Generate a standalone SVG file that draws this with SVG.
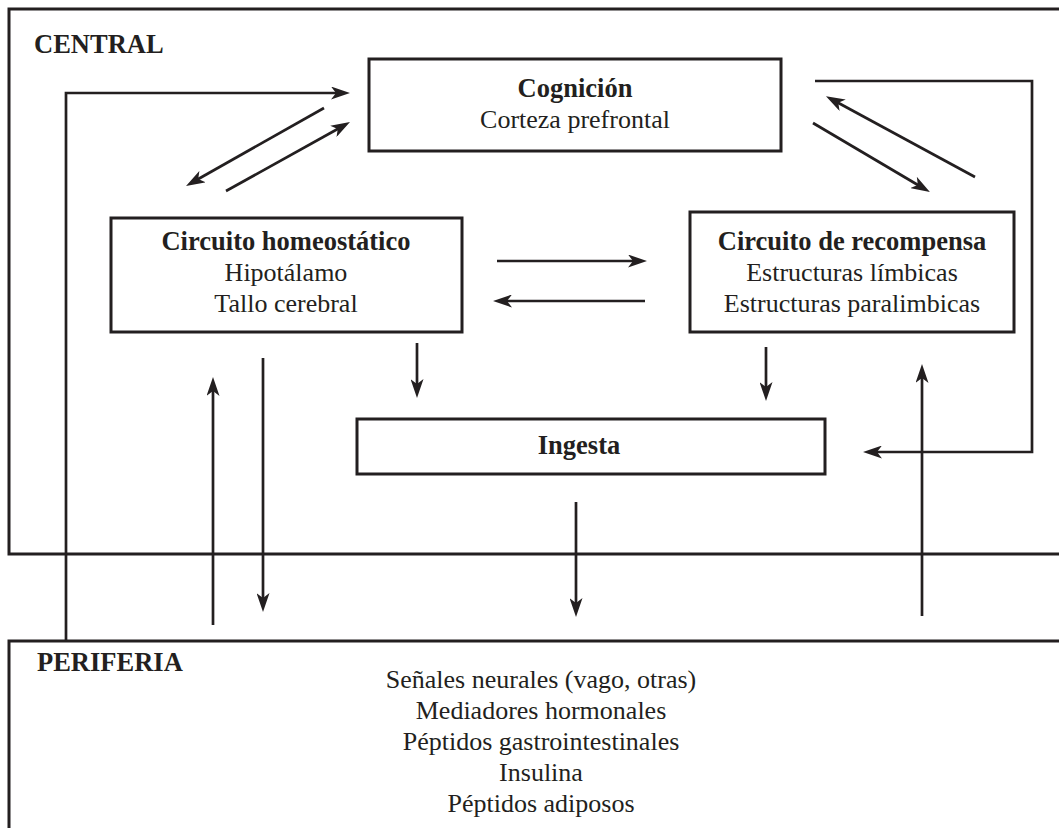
<svg xmlns="http://www.w3.org/2000/svg" width="1059" height="828" viewBox="0 0 1059 828">
<defs>
<marker id="ah" viewBox="0 0 19 13" refX="11" refY="6.5" markerWidth="19" markerHeight="13" markerUnits="userSpaceOnUse" orient="auto">
<path d="M0,0 L19,6.5 L0,13 L5,6.5 Z" fill="#231f20"/>
</marker>
</defs>
<style>
.box{fill:none;stroke:#231f20;stroke-width:3}
.ar{fill:none;stroke:#231f20;stroke-width:2.7;marker-end:url(#ah)}
text{font-family:"Liberation Serif","Times New Roman",serif;font-size:26px;fill:#231f20}
.b{font-weight:bold;font-size:26.5px}
.c{text-anchor:middle}
</style>
<rect width="1059" height="828" fill="#ffffff"/>
<g id="central">
<rect class="box" x="9" y="9" width="1070" height="545"/>
<text class="b" x="34" y="53">CENTRAL</text>
</g>
<g id="periferia">
<rect class="box" x="9" y="641" width="1070" height="200"/>
<text class="b" x="37" y="671">PERIFERIA</text>
<text class="c" x="541" y="688">Señales neurales (vago, otras)</text>
<text class="c" x="541" y="719">Mediadores hormonales</text>
<text class="c" x="541" y="750">Péptidos gastrointestinales</text>
<text class="c" x="541" y="781">Insulina</text>
<text class="c" x="541" y="812">Péptidos adiposos</text>
</g>
<g id="cognicion">
<rect class="box" x="369" y="59" width="412" height="92"/>
<text class="b c" x="575" y="97">Cognición</text>
<text class="c" x="575" y="128">Corteza prefrontal</text>
</g>
<g id="homeostatico">
<rect class="box" x="111" y="218" width="351" height="114"/>
<text class="b c" x="286" y="250">Circuito homeostático</text>
<text class="c" x="286" y="281">Hipotálamo</text>
<text class="c" x="286" y="312">Tallo cerebral</text>
</g>
<g id="recompensa">
<rect class="box" x="690" y="212" width="324" height="120"/>
<text class="b c" x="852" y="250">Circuito de recompensa</text>
<text class="c" x="852" y="281">Estructuras límbicas</text>
<text class="c" x="852" y="312">Estructuras paralimbicas</text>
</g>
<g id="ingesta">
<rect class="box" x="357" y="419" width="468" height="55"/>
<text class="b c" x="579" y="454">Ingesta</text>
</g>
<g id="connectors">
<path class="ar" d="M66,641 V93 H342"/>
<path class="ar" d="M324,108 L193,182"/>
<path class="ar" d="M226,191 L343,126"/>
<path class="ar" d="M975,177 L833,100"/>
<path class="ar" d="M813,123 L923,188"/>
<path class="ar" d="M815,81 H1032 V452 H871"/>
<path class="ar" d="M497,261 H639"/>
<path class="ar" d="M645,301 H501"/>
<path class="ar" d="M417,343 V390"/>
<path class="ar" d="M766,347 V393"/>
<path class="ar" d="M213,625 V385"/>
<path class="ar" d="M263,358 V604"/>
<path class="ar" d="M576,502 V609"/>
<path class="ar" d="M922,616 V372"/>
</g>
</svg>
